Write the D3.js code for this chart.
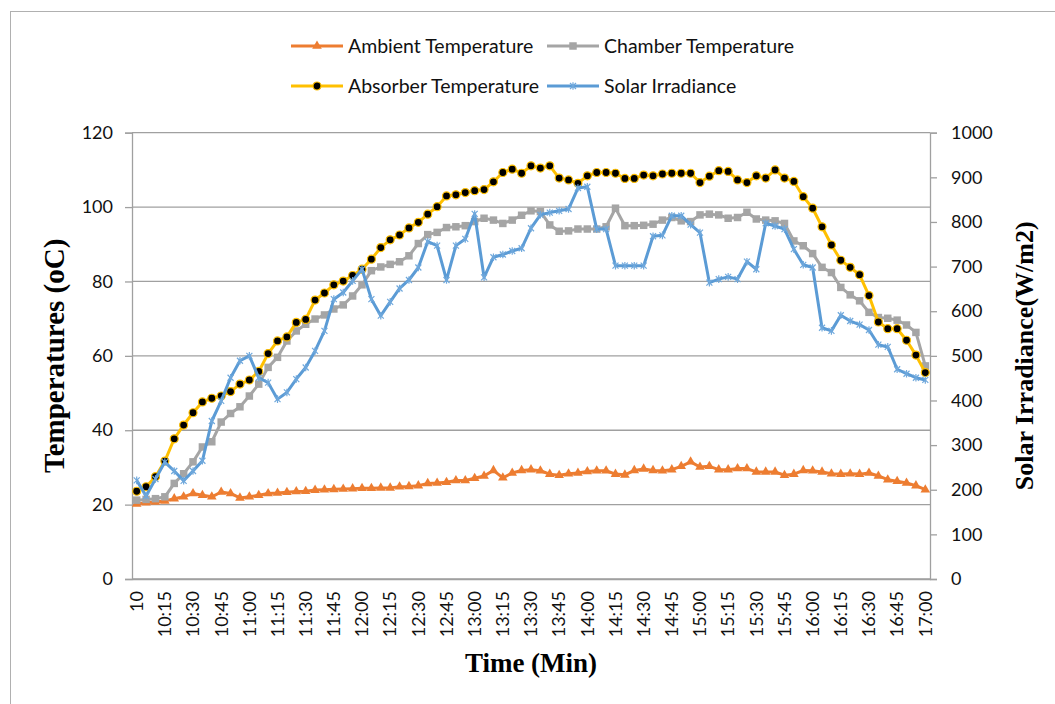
<!DOCTYPE html>
<html>
<head>
<meta charset="utf-8">
<script src="https://cdn.jsdelivr.net/npm/d3@7"></script>
<style>
  html, body { margin: 0; padding: 0; background: #fff; }
  svg { display: block; }
</style>
</head>
<body>
<svg id="chart" width="1055" height="704"></svg>
<script>
// ---- Data (5-minute readings from 10:00 to 17:00) ----
const tickLabels = ["10","10:15","10:30","10:45","11:00","11:15","11:30","11:45","12:00","12:15","12:30","12:45","13:00","13:15","13:30","13:45","14:00","14:15","14:30","14:45","15:00","15:15","15:30","15:45","16:00","16:15","16:30","16:45","17:00"];

const ambient = [20.2,20.5,20.7,21.0,21.6,22.1,23.0,22.5,22.1,23.4,23.0,21.8,22.1,22.5,23.0,23.1,23.3,23.5,23.6,23.9,24.0,24.1,24.2,24.3,24.4,24.4,24.5,24.5,24.8,24.9,25.1,25.7,25.8,26.0,26.5,26.5,27.1,27.7,29.2,27.2,28.5,29.2,29.4,29.1,28.2,27.9,28.3,28.5,28.9,29.1,29.1,28.2,28.0,29.2,29.6,29.2,29.1,29.4,30.3,31.5,30.1,30.3,29.4,29.4,29.7,29.7,28.8,28.8,28.8,27.9,28.2,29.2,29.1,28.8,28.3,28.2,28.3,28.2,28.5,27.7,26.7,26.3,25.8,25.1,24.0];

const chamber = [21.2,21.4,21.6,22.1,25.7,28.3,31.5,35.5,36.9,42.2,44.5,46.3,49.2,52.4,56.9,59.6,64.0,66.7,68.5,69.9,71.0,72.6,73.7,76.1,79.1,82.9,83.9,84.6,85.3,86.9,90.2,92.6,93.2,94.5,94.7,95.0,96.1,97.0,96.5,95.6,96.5,97.8,99.0,98.8,95.2,93.5,93.6,94.1,94.1,94.1,94.7,99.7,95.0,95.0,95.1,95.4,96.5,97.2,96.3,96.1,97.9,98.1,97.9,97.0,97.2,98.6,96.8,96.5,96.3,95.6,90.9,89.6,87.5,83.8,82.4,78.4,76.4,74.8,71.7,70.3,70.1,69.6,68.3,66.3,57.3];

const absorber = [23.6,24.8,27.5,31.7,37.7,41.4,44.7,47.6,48.6,49.2,50.4,52.4,53.5,55.8,60.6,64.0,65.1,69.0,69.8,75.0,76.9,79.1,80.1,81.6,83.3,86.0,89.1,91.2,92.5,94.4,95.9,98.1,100.1,103.0,103.3,103.9,104.4,104.7,106.8,109.3,110.2,109.1,111.1,110.5,111.1,107.8,107.3,106.4,108.4,109.3,109.3,109.1,107.7,107.7,108.6,108.4,108.9,109.1,109.1,109.1,106.6,108.3,109.8,109.6,107.3,106.6,108.4,107.8,110.0,107.8,106.9,102.8,99.7,94.7,89.8,85.7,83.8,81.8,76.2,69.1,67.3,67.3,64.2,60.2,55.5];

const solar = [221,186,224,262,242,220,242,265,354,399,451,489,500,451,440,403,418,448,474,511,556,627,642,668,694,627,590,621,651,670,698,756,747,670,747,762,818,676,721,727,735,741,786,816,821,825,829,876,879,784,784,702,702,702,702,768,770,814,814,794,776,664,672,677,672,711,694,797,791,784,739,704,698,563,556,591,578,570,558,525,520,470,460,451,446];

const seriesNames = ["Ambient Temperature","Chamber Temperature","Absorber Temperature","Solar Irradiance"];
const tempTicks = [0,20,40,60,80,100,120];
const solarTicks = [0,100,200,300,400,500,600,700,800,900,1000];

// ---- Layout ----
const svg = d3.select("#chart");
const L = 132, R = 930, T = 132.7, B = 579;
const n = ambient.length;
const x = d3.scaleBand().domain(d3.range(n)).range([L, R]);
const cx = i => x(i) + x.bandwidth() / 2;
const y = d3.scaleLinear().domain([0, 120]).range([B, T]);
const y2 = d3.scaleLinear().domain([0, 1000]).range([B, T]);

const gridCol = "#a0a0a0";
const font = "Lato, 'Open Sans', sans-serif";
const serif = "'Liberation Serif', 'Times New Roman', serif";

// Outer border
svg.append("rect").attr("x", 10.5).attr("y", 11.5).attr("width", 1100).attr("height", 800)
  .attr("fill", "none").attr("stroke", "#b0b0b0").attr("stroke-width", 1);

// Gridlines
svg.append("g").selectAll("line").data(tempTicks).join("line")
  .attr("x1", L).attr("x2", R).attr("y1", d => y(d)).attr("y2", d => y(d))
  .attr("stroke", gridCol).attr("stroke-width", 1.3);

// Left axis
const gL = svg.append("g").attr("transform", `translate(${L},0)`)
  .call(d3.axisLeft(y).tickValues(tempTicks).tickSize(7).tickPadding(12));
// Right axis
const gR = svg.append("g").attr("transform", `translate(${R},0)`)
  .call(d3.axisRight(y2).tickValues(solarTicks).tickFormat(d3.format("d")).tickSize(7).tickPadding(14));
[gL, gR].forEach(g => {
  g.select(".domain").attr("stroke", gridCol).attr("stroke-width", 1.3);
  g.selectAll(".tick line").attr("stroke", gridCol).attr("stroke-width", 1.3);
  g.selectAll(".tick text").attr("font-family", font).attr("font-size", 18).attr("fill", "#111");
});

// Bottom axis (category)
const gB = svg.append("g").attr("transform", `translate(0,${B})`)
  .call(d3.axisBottom(x).tickValues(d3.range(0, n, 3)).tickSize(0)
    .tickFormat(i => tickLabels[i / 3]));
gB.select(".domain").attr("stroke", gridCol).attr("stroke-width", 1.3);
gB.selectAll(".tick text")
  .attr("font-family", font).attr("font-size", 18).attr("fill", "#111")
  .attr("text-anchor", "end")
  .attr("transform", "translate(0,12) rotate(-90)")
  .attr("x", 0).attr("y", 0).attr("dy", "0.35em");

// Axis titles
svg.append("text").attr("transform", `translate(54,${(T + B) / 2}) rotate(-90)`)
  .attr("text-anchor", "middle").attr("dy", "0.35em")
  .attr("font-family", serif).attr("font-weight", "bold").attr("font-size", 29)
  .text("Temperatures (oC)");
svg.append("text").attr("transform", `translate(1024,${(T + B) / 2}) rotate(-90)`)
  .attr("text-anchor", "middle").attr("dy", "0.35em")
  .attr("font-family", serif).attr("font-weight", "bold").attr("font-size", 26)
  .text("Solar Irradiance(W/m2)");
svg.append("text").attr("x", (L + R) / 2).attr("y", 672)
  .attr("text-anchor", "middle")
  .attr("font-family", serif).attr("font-weight", "bold").attr("font-size", 27)
  .text("Time (Min)");

// Series
const colors = { amb: "#ED7D31", cha: "#A5A5A5", abs: "#FFC000", sol: "#5B9BD5" };
const line1 = d3.line().x((d, i) => cx(i)).y(d => y(d));
const line2 = d3.line().x((d, i) => cx(i)).y(d => y2(d));
const tri = d3.symbol().type(d3.symbolTriangle).size(40)();
const sq = d3.symbol().type(d3.symbolSquare).size(56)();
const star = "M-3,-3L3,3M-3,3L3,-3M0,-3.8L0,3.8";

function drawSeries(data, lineGen, color, markerFn) {
  const g = svg.append("g");
  g.append("path").datum(data).attr("d", lineGen).attr("fill", "none")
    .attr("stroke", color).attr("stroke-width", 3).attr("stroke-linejoin", "round");
  const mg = g.append("g");
  markerFn(mg, data);
}

drawSeries(ambient, line1, colors.amb, (g, data) => {
  g.selectAll("path").data(data).join("path")
    .attr("d", tri).attr("transform", (d, i) => `translate(${cx(i)},${y(d)})`)
    .attr("fill", colors.amb);
});
drawSeries(chamber, line1, colors.cha, (g, data) => {
  g.selectAll("path").data(data).join("path")
    .attr("d", sq).attr("transform", (d, i) => `translate(${cx(i)},${y(d)})`)
    .attr("fill", colors.cha);
});
drawSeries(absorber, line1, colors.abs, (g, data) => {
  g.selectAll("circle").data(data).join("circle")
    .attr("cx", (d, i) => cx(i)).attr("cy", d => y(d)).attr("r", 4)
    .attr("fill", "#000").attr("stroke", colors.abs).attr("stroke-width", 1.2);
});
drawSeries(solar, line2, colors.sol, (g, data) => {
  g.selectAll("path").data(data).join("path")
    .attr("d", star).attr("transform", (d, i) => `translate(${cx(i)},${y2(d)})`)
    .attr("fill", "none").attr("stroke", "#6fa8dc").attr("stroke-width", 1.2);
});

// Legend
const legend = [
  { name: seriesNames[0], color: colors.amb, x: 291, y: 46, m: "tri" },
  { name: seriesNames[1], color: colors.cha, x: 547, y: 46, m: "sq" },
  { name: seriesNames[2], color: colors.abs, x: 291, y: 86, m: "dot" },
  { name: seriesNames[3], color: colors.sol, x: 547, y: 86, m: "star" }
];
const lg = svg.append("g");
legend.forEach(d => {
  const g = lg.append("g").attr("transform", `translate(${d.x},${d.y})`);
  g.append("line").attr("x1", 0).attr("x2", 52).attr("stroke", d.color).attr("stroke-width", 3);
  if (d.m === "tri") g.append("path").attr("d", tri).attr("transform", "translate(26,0)").attr("fill", d.color);
  if (d.m === "sq") g.append("path").attr("d", sq).attr("transform", "translate(26,0)").attr("fill", d.color);
  if (d.m === "dot") g.append("circle").attr("cx", 26).attr("r", 4).attr("fill", "#000").attr("stroke", d.color).attr("stroke-width", 1.2);
  if (d.m === "star") g.append("path").attr("d", star).attr("transform", "translate(26,0)").attr("fill", "none").attr("stroke", "#6fa8dc").attr("stroke-width", 1.2);
  g.append("text").attr("x", 57).attr("dy", "0.35em")
    .attr("font-family", font).attr("font-size", 19.5).attr("fill", "#111").text(d.name);
});
</script>
</body>
</html>
